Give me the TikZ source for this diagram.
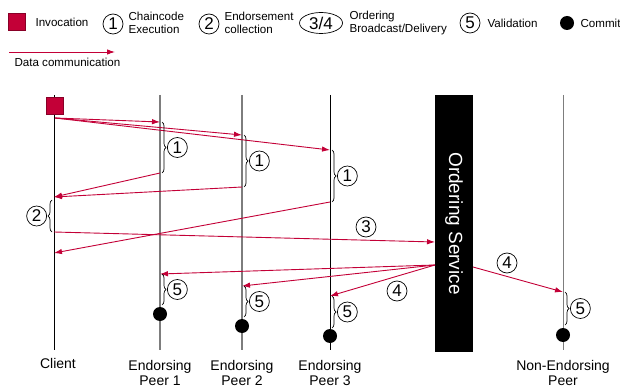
\documentclass[tikz,border=0pt]{standalone}
\usepackage{fontspec}
\setmainfont{Liberation Sans}
\definecolor{msgred}{RGB}{195, 0, 55}
\definecolor{lifegray}{RGB}{125, 125, 125}
\usetikzlibrary{shapes.geometric, arrows.meta, decorations.pathreplacing}

\begin{document}
\begin{tikzpicture}[x=1pt, y=-1pt,
  msg/.style={-{Latex[length=8pt, width=5.5pt]}, msgred, line width=0.9pt},
  num/.style={circle, draw, line width=0.7pt, minimum size=20pt, inner sep=0pt, font=\fontsize{17}{17}\selectfont},
  brc/.style={decorate, decoration={brace, amplitude=4pt}, line width=0.7pt},
  commit/.style={circle, fill=black, minimum size=14pt, inner sep=0pt},
  legtext/.style={anchor=west, align=left, font=\fontsize{11.6}{13}\selectfont},
  peertext/.style={align=center, font=\fontsize{14}{15}\selectfont},
  life/.style={line width=0.8pt},
  lifegr/.style={lifegray, line width=1.5pt}]
  \useasboundingbox (0,0) rectangle (620,387);

  % Legend
  \node[draw=msgred!70!black, fill=msgred, minimum size=17pt, inner sep=0pt] (leginv) at (17,22) {};
  \node[legtext] (leginvtext) at (32,22) {Invocation};
  \node[num] (leg1) at (113,24) {1};
  \node[legtext] (leg1text) at (125,23) {Chaincode\\Execution};
  \node[num] (leg2) at (209,24) {2};
  \node[legtext] (leg2text) at (221,23) {Endorsement\\collection};
  \node[ellipse, draw, line width=0.7pt, minimum width=43pt, minimum height=21pt, inner sep=0pt, font=\fontsize{17}{17}\selectfont] (leg34) at (321,23) {3/4};
  \node[legtext] (leg34text) at (346,23) {Ordering\\Broadcast/Delivery};
  \node[num] (leg5) at (470,23) {5};
  \node[legtext] (leg5text) at (484,23) {Validation};
  \node[commit] (legcommit) at (567,23) {};
  \node[legtext] (legcommittext) at (577,23) {Commit};
  \coordinate (legA) at (9,52);
  \coordinate (legB) at (115,52);
  \draw[msg] (legA) -- (legB);
  \node[legtext] (legdata) at (11,62) {Data communication};

  % Lifelines
  \coordinate (clienttop) at (54,95);   \coordinate (clientbot) at (54,350);
  \coordinate (peer1top) at (160,95);   \coordinate (peer1bot) at (160,350);
  \coordinate (peer2top) at (242,95);   \coordinate (peer2bot) at (242,350);
  \coordinate (peer3top) at (330,95);   \coordinate (peer3bot) at (330,350);
  \coordinate (neptop) at (563,95);     \coordinate (nepbot) at (563,350);
  \draw[life] (clienttop) -- (clientbot);
  \draw[lifegr] (peer1top) -- (peer1bot);
  \draw[lifegr] (peer2top) -- (peer2bot);
  \draw[life] (peer3top) -- (peer3bot);
  \draw[lifegray, line width=1pt] (neptop) -- (nepbot);

  % Ordering service
  \node[fill=black, rotate=-90, minimum width=257pt, minimum height=38pt, inner sep=0pt,
        text=white, font=\fontsize{19}{19}\selectfont] (orderer) at (454,223.5) {Ordering Service};

  % Names
  \node[peertext] (client) at (58,363) {Client};
  \node[peertext] (peer1) at (160,373) {Endorsing\\Peer 1};
  \node[peertext] (peer2) at (242,373) {Endorsing\\Peer 2};
  \node[peertext] (peer3) at (330,373) {Endorsing\\Peer 3};
  \node[peertext] (nep) at (563,373) {Non-Endorsing\\Peer};

  % Invocation
  \node[draw=msgred!70!black, fill=msgred, minimum size=17pt, inner sep=0pt] (inv) at (54.5,105.5) {};
  \coordinate (invout) at (55,118);

  % Chaincode execution
  \coordinate (p1a) at (160,122);  \coordinate (p1b) at (160,173);
  \coordinate (p2a) at (242,135);  \coordinate (p2b) at (242,187);
  \coordinate (p3a) at (330,150);  \coordinate (p3b) at (330,202);
  \draw[msg] (invout) -- (p1a);
  \draw[msg] (invout) -- (p2a);
  \draw[msg] (invout) -- (p3a);
  \draw[brc] ([xshift=2pt]p1a) -- ([xshift=2pt]p1b) node[num, midway, anchor=west, xshift=5pt] (ex1) {1};
  \draw[brc] ([xshift=2pt]p2a) -- ([xshift=2pt]p2b) node[num, midway, anchor=west, xshift=5pt] (ex2) {1};
  \draw[brc] ([xshift=2pt]p3a) -- ([xshift=2pt]p3b) node[num, midway, anchor=west, xshift=5pt] (ex3) {1};

  % Endorsement collection
  \coordinate (cr1) at (54,197);
  \coordinate (cr3) at (54,253);
  \coordinate (c2a) at (54,200);
  \coordinate (c2b) at (54,232);
  \draw[msg] (p1b) -- (cr1);
  \draw[msg] (p2b) -- (cr1);
  \draw[msg] (p3b) -- (cr3);
  \draw[brc] ([xshift=-2pt]c2b) -- ([xshift=-2pt]c2a) node[num, midway, anchor=east, xshift=-5pt] (coll) {2};

  % Broadcast
  \coordinate (ordin) at (435,242);
  \draw[msg] (c2b) -- (ordin);
  \node[num] (n3) at (366,227) {3};

  % Delivery
  \coordinate (ordout) at (435,265);
  \coordinate (ordout2) at (473,267);
  \coordinate (p1c) at (160,274);  \coordinate (p1d) at (160,305);
  \coordinate (p2c) at (242,286);  \coordinate (p2d) at (242,317);
  \coordinate (p3c) at (330,296);  \coordinate (p3d) at (330,328);
  \coordinate (nepc) at (563,292); \coordinate (nepd) at (563,325);
  \draw[msg] (ordout) -- (p1c);
  \draw[msg] (ordout) -- (p2c);
  \draw[msg] (ordout) -- (p3c);
  \draw[msg] (ordout2) -- (nepc);
  \node[num] (n4a) at (397,291) {4};
  \node[num] (n4b) at (507,263) {4};

  % Validation and commit
  \draw[brc] ([xshift=2pt]p1c) -- ([xshift=2pt]p1d) node[num, midway, anchor=west, xshift=5pt] (val1) {5};
  \draw[brc] ([xshift=2pt]p2c) -- ([xshift=2pt]p2d) node[num, midway, anchor=west, xshift=5pt] (val2) {5};
  \draw[brc] ([xshift=2pt]p3c) -- ([xshift=2pt]p3d) node[num, midway, anchor=west, xshift=5pt] (val3) {5};
  \draw[brc] ([xshift=2pt]nepc) -- ([xshift=2pt]nepd) node[num, midway, anchor=west, xshift=5pt] (valnep) {5};
  \node[commit] (commit1) at (160,314) {};
  \node[commit] (commit2) at (242,326) {};
  \node[commit] (commit3) at (330,336) {};
  \node[commit] (commitnep) at (563,335) {};
\end{tikzpicture}
\end{document}
